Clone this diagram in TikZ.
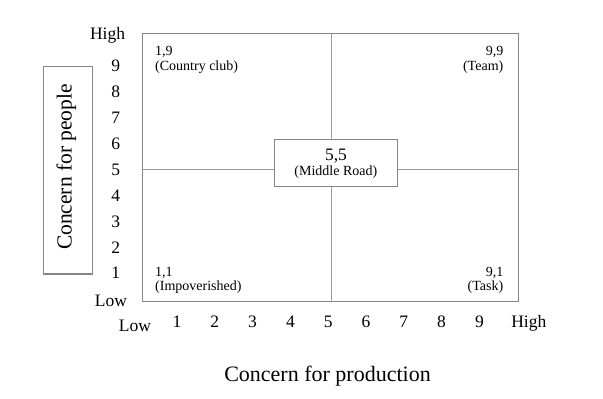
\documentclass[tikz,border=0pt]{standalone}
\usepackage{fontspec}
\setmainfont{Liberation Serif}
\definecolor{boxgray}{HTML}{858585}
\definecolor{crossblue}{HTML}{879CC8}
\begin{document}
\begin{tikzpicture}[x=1pt,y=-1pt,
  frame/.style={draw=boxgray, line width=1.1pt, inner sep=0pt},
  crossline/.style={draw=crossblue, line width=0.9pt},
  axislbl/.style={inner sep=0pt, anchor=base, font=\fontsize{17.5}{20}\selectfont},
  smalllbl/.style={inner sep=0pt, font=\fontsize{14}{16}\selectfont},
  titlelbl/.style={inner sep=0pt, anchor=base, font=\fontsize{22}{24}\selectfont}]
\useasboundingbox (0,0) rectangle (603,399);
% main grid
\node[frame, minimum width=376pt, minimum height=268.4pt] (grid) at (330.7,167.5) {};
\coordinate (cx) at (331,169);
\draw[crossline] (cx |- grid.north) -- (cx |- grid.south);
\draw[crossline] (cx -| grid.west) -- (cx -| grid.east);
% middle box
\node[frame, fill=white, minimum width=123pt, minimum height=47.4pt] (mid) at (335.7,163) {};
\node[axislbl] (midnum) at (336,160) {5,5};
\node[smalllbl, anchor=base] (midtxt) at (335.8,175.8) {(Middle Road)};
% corner labels
\node[smalllbl, anchor=base west] (cc1) at (155,55.3) {1,9};
\node[smalllbl, anchor=base west] (cc2) at (155,70.3) {(Country club)};
\node[smalllbl, anchor=base east] (tm1) at (503.5,55.3) {9,9};
\node[smalllbl, anchor=base east] (tm2) at (503.5,70.3) {(Team)};
\node[smalllbl, anchor=base west] (im1) at (155,276.5) {1,1};
\node[smalllbl, anchor=base west] (im2) at (155,290) {(Impoverished)};
\node[smalllbl, anchor=base east] (tk1) at (503.5,276.5) {9,1};
\node[smalllbl, anchor=base east] (tk2) at (503.5,290) {(Task)};
% y axis
\node[axislbl] (yhigh) at (107.5,39.5) {High};
\foreach \k in {1,...,9} {
  \node[axislbl] (y\k) at (115.7,{71.7+(9-\k)*25.9}) {\k};
}
\node[axislbl] (ylow) at (111,306) {Low};
% x axis
\node[axislbl] (xlow) at (135,331.5) {Low};
\foreach \k in {1,...,9} {
  \node[axislbl] (x\k) at ({177+(\k-1)*37.8},327.5) {\k};
}
\node[axislbl] (xhigh) at (528.8,327.3) {High};
% titles
\node[frame, minimum width=49.4pt, minimum height=207.3pt] (pbox) at (68,170.3) {};
\node[titlelbl, rotate=90, font=\fontsize{21.5}{24}\selectfont] (ptitle) at (71.7,167) {Concern for people};
\node[titlelbl] (xtitle) at (327.5,381.7) {Concern for production};
\end{tikzpicture}
\end{document}
